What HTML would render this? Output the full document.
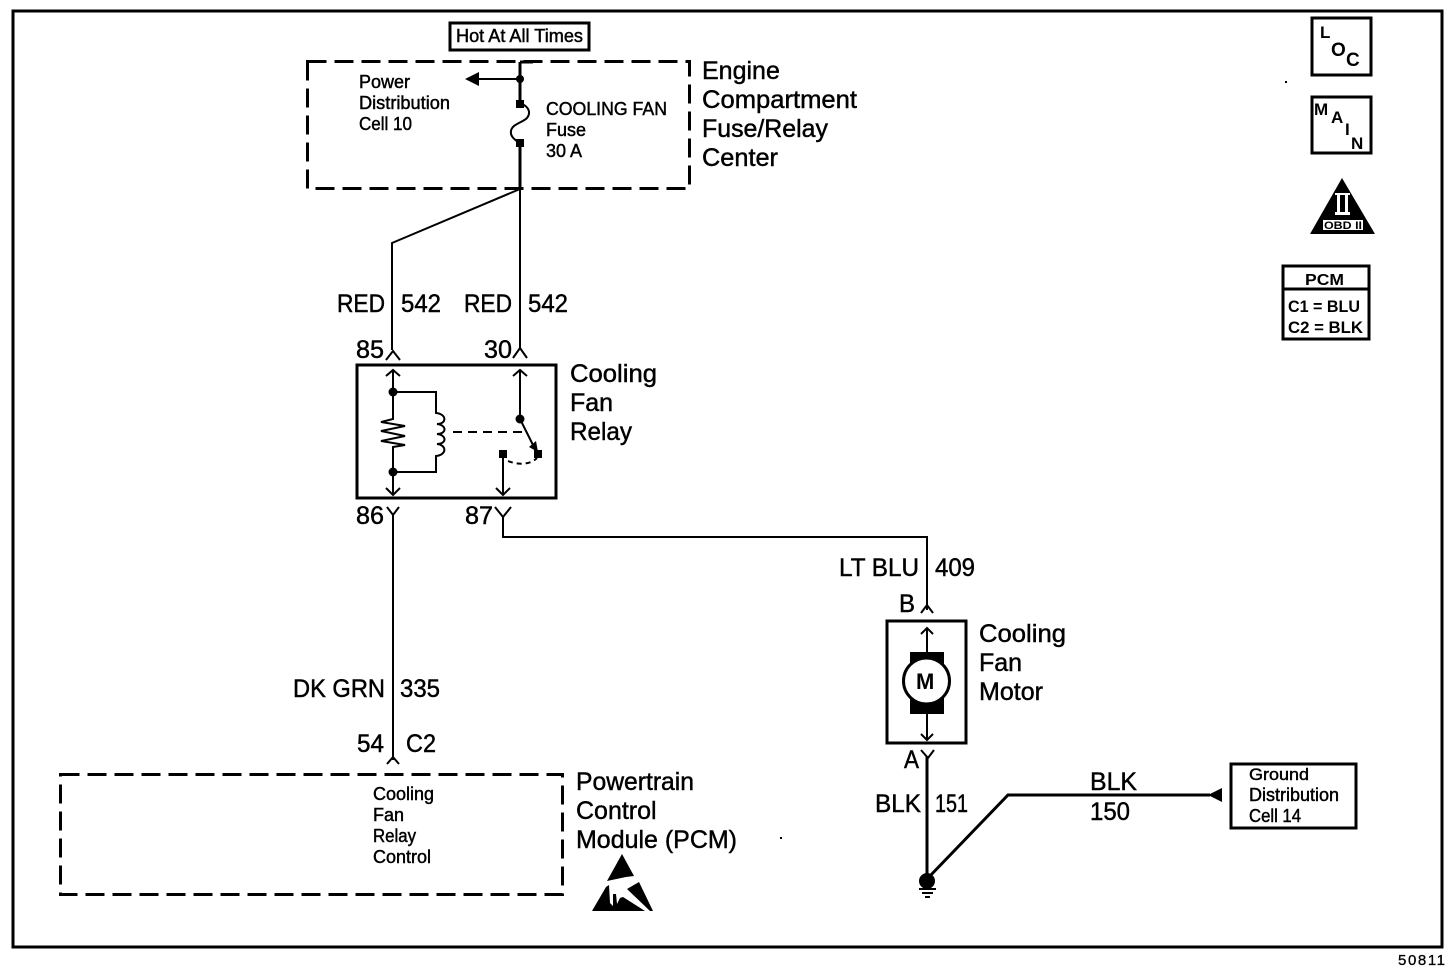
<!DOCTYPE html>
<html><head><meta charset="utf-8"><style>
html,body{margin:0;padding:0;background:#fff}
svg{display:block}
text{font-family:"Liberation Sans",sans-serif;fill:#000;stroke:#000;stroke-width:.45}
.l{font-size:25px}.s{font-size:18px}
.b{font-weight:bold;stroke:none}
.w{fill:none;stroke:#000;stroke-width:2}
.t{fill:none;stroke:#000;stroke-width:3}
</style></head><body>
<svg width="1456" height="974" viewBox="0 0 1456 974" xmlns="http://www.w3.org/2000/svg">
<rect x="13" y="11" width="1429" height="936" class="t"/>
<rect x="1285" y="81" width="2" height="2"/><rect x="780" y="837" width="2" height="2"/>

<!-- Fuse block -->
<rect x="450" y="23" width="139" height="27" class="t"/>
<text class="s" x="456" y="42" textLength="127" lengthAdjust="spacingAndGlyphs">Hot At All Times</text>
<rect x="307.500" y="61.500" width="382" height="127" fill="none" stroke="#000" stroke-width="3" stroke-dasharray="19 8"/>
<text class="s" x="359" y="88" textLength="51" lengthAdjust="spacingAndGlyphs">Power</text>
<text class="s" x="359" y="109" textLength="91" lengthAdjust="spacingAndGlyphs">Distribution</text>
<text class="s" x="359" y="130" textLength="53" lengthAdjust="spacingAndGlyphs">Cell 10</text>
<text class="s" x="546" y="115" textLength="121" lengthAdjust="spacingAndGlyphs">COOLING FAN</text>
<text class="s" x="546" y="136">Fuse</text>
<text class="s" x="546" y="157">30 A</text>
<text class="l" x="702" y="79">Engine</text>
<text class="l" x="702" y="108" textLength="155" lengthAdjust="spacingAndGlyphs">Compartment</text>
<text class="l" x="702" y="137" textLength="126" lengthAdjust="spacingAndGlyphs">Fuse/Relay</text>
<text class="l" x="702" y="166" textLength="76" lengthAdjust="spacingAndGlyphs">Center</text>
<path class="t" d="M520 62V105M520 143V188"/>
<path class="t" d="M520 62H533"/>
<path class="w" d="M520 79H478"/>
<path d="M465 79L479 72V86Z"/>
<circle cx="520" cy="79" r="4"/>
<rect x="516" y="100" width="8" height="8"/>
<rect x="516" y="139" width="8" height="8"/>
<path class="w" d="M522 104C529 107 531 113 527 118C522 123 512 124 511 131C510 136 514 139 519 143"/>
<path class="w" d="M520 188V350M520 189L392 243V350"/>

<!-- Wire labels upper -->
<text class="l" x="337" y="312" textLength="48" lengthAdjust="spacingAndGlyphs">RED</text>
<text class="l" x="401" y="312" textLength="40" lengthAdjust="spacingAndGlyphs">542</text>
<text class="l" x="464" y="312" textLength="48" lengthAdjust="spacingAndGlyphs">RED</text>
<text class="l" x="528" y="312" textLength="40" lengthAdjust="spacingAndGlyphs">542</text>
<text class="l" x="356" y="358" textLength="28" lengthAdjust="spacingAndGlyphs">85</text>
<text class="l" x="484" y="358" textLength="28" lengthAdjust="spacingAndGlyphs">30</text>
<path class="w" d="M386 360L393 351L400 360M513 358L520 348L527 358"/>

<!-- Relay -->
<rect x="357" y="365" width="199" height="133" class="t"/>
<text class="l" x="570" y="382" textLength="87" lengthAdjust="spacingAndGlyphs">Cooling</text>
<text class="l" x="570" y="411">Fan</text>
<text class="l" x="570" y="440" textLength="62" lengthAdjust="spacingAndGlyphs">Relay</text>
<path class="w" d="M393 370V419L381 422L405 426L381 431L405 436L381 441L405 445L393 447V494M386 376L393 370L400 376M386 488L393 495L400 488"/>
<circle cx="393" cy="392" r="4.500"/><circle cx="393" cy="472" r="4.500"/>
<path class="w" d="M393 392H436V413C447 414 447 424 437 424C447 425 447 434 437 434C447 435 447 444 437 444C447 445 447 455 436 456V472H393"/>
<path class="w" d="M453 432H525" stroke-dasharray="9 6"/>
<path class="w" d="M520 370V419L536 451M513 376L520 370L527 376"/>
<path d="M529 447L538 452L536 441Z"/>
<circle cx="520" cy="419" r="4.500"/>
<rect x="534" y="450" width="8" height="8"/>
<rect x="499" y="450" width="8" height="8"/>
<path class="w" d="M503 454V495M496 488L503 495L510 488"/>
<path class="w" d="M508 461C518 465 530 465 537 458" stroke-dasharray="5 4"/>
<text class="l" x="356" y="524" textLength="28" lengthAdjust="spacingAndGlyphs">86</text>
<text class="l" x="465" y="524" textLength="28" lengthAdjust="spacingAndGlyphs">87</text>
<path class="w" d="M387 507L393 515L399 507M393 515V760M495 507L503 517L511 507M503 517V537H927V610"/>

<text class="l" x="293" y="697" textLength="92" lengthAdjust="spacingAndGlyphs">DK GRN</text>
<text class="l" x="400" y="697" textLength="40" lengthAdjust="spacingAndGlyphs">335</text>
<text class="l" x="357" y="752" textLength="27" lengthAdjust="spacingAndGlyphs">54</text>
<text class="l" x="406" y="752" textLength="30" lengthAdjust="spacingAndGlyphs">C2</text>
<path class="w" d="M387 764L393 757L399 764"/>

<!-- PCM -->
<rect x="60.500" y="774.500" width="502" height="120" fill="none" stroke="#000" stroke-width="3" stroke-dasharray="19 8"/>
<text class="s" x="373" y="800" textLength="61" lengthAdjust="spacingAndGlyphs">Cooling</text>
<text class="s" x="373" y="821">Fan</text>
<text class="s" x="373" y="842" textLength="43" lengthAdjust="spacingAndGlyphs">Relay</text>
<text class="s" x="373" y="863" textLength="58" lengthAdjust="spacingAndGlyphs">Control</text>
<text class="l" x="576" y="790" textLength="118" lengthAdjust="spacingAndGlyphs">Powertrain</text>
<text class="l" x="576" y="819">Control</text>
<text class="l" x="576" y="848" textLength="161" lengthAdjust="spacingAndGlyphs">Module (PCM)</text>
<path d="M622 854L634 876L626 877L607 881Z"/>
<path d="M606 887L609 885L610 903L613 906L613 894L616 894L617 904L620 898L623 897L645 911H592Z"/>
<path d="M627 889L639 882L653 911H650Z"/>

<!-- Motor -->
<text class="l" x="839" y="576" textLength="80" lengthAdjust="spacingAndGlyphs">LT BLU</text>
<text class="l" x="935" y="576" textLength="40" lengthAdjust="spacingAndGlyphs">409</text>
<text class="l" x="899" y="612" textLength="16" lengthAdjust="spacingAndGlyphs">B</text>
<path class="w" d="M921 613L927 605L933 613"/>
<rect x="887" y="621" width="79" height="122" class="t"/>
<text class="l" x="979" y="642" textLength="87" lengthAdjust="spacingAndGlyphs">Cooling</text>
<text class="l" x="979" y="671">Fan</text>
<text class="l" x="979" y="700" textLength="64" lengthAdjust="spacingAndGlyphs">Motor</text>
<path class="w" d="M927 652V628M921 634L927 628L933 634M927 714V740M921 734L927 740L933 734"/>
<rect x="910" y="652" width="34" height="62"/>
<circle cx="926.500" cy="681" r="23" fill="#fff" stroke="#000" stroke-width="3"/>
<text class="b" x="916" y="689" style="font-size:22px">M</text>
<text class="l" x="904" y="768" textLength="15" lengthAdjust="spacingAndGlyphs">A</text>
<path class="w" d="M921 750L928 758L934 750"/>
<path class="t" d="M927 756V880"/>
<text class="l" x="875" y="812" textLength="46" lengthAdjust="spacingAndGlyphs">BLK</text>
<text class="l" x="935" y="812" textLength="33" lengthAdjust="spacingAndGlyphs">151</text>
<path class="t" d="M928 878L1008 795H1210"/>
<path d="M1208 795L1222 788V802Z"/>
<text class="l" x="1090" y="790" textLength="47" lengthAdjust="spacingAndGlyphs">BLK</text>
<text class="l" x="1090" y="820" textLength="40" lengthAdjust="spacingAndGlyphs">150</text>
<circle cx="927" cy="881" r="8"/>
<path class="w" d="M919 889H936M922 893H933M925 897H930"/>
<rect x="1231" y="764" width="125" height="64" class="t"/>
<text class="s" x="1249" y="780" textLength="60" lengthAdjust="spacingAndGlyphs" style="font-size:17px">Ground</text>
<text class="s" x="1249" y="801" textLength="90" lengthAdjust="spacingAndGlyphs">Distribution</text>
<text class="s" x="1249" y="822" textLength="52" lengthAdjust="spacingAndGlyphs">Cell 14</text>

<!-- Icons -->
<rect x="1312" y="18" width="59" height="57" class="t"/>
<text class="b" x="1320" y="38" style="font-size:17px">L</text>
<text class="b" x="1331" y="56" style="font-size:19px">O</text>
<text class="b" x="1346" y="66" style="font-size:19px">C</text>
<rect x="1312" y="97" width="59" height="56" class="t"/>
<text class="b" x="1314" y="115" style="font-size:17px">M</text>
<text class="b" x="1331" y="123" style="font-size:17px">A</text>
<text class="b" x="1345" y="135" style="font-size:17px">I</text>
<text class="b" x="1351" y="149" style="font-size:17px">N</text>
<path d="M1342 178L1375 234H1310Z"/>
<rect x="1323" y="220" width="40" height="10" fill="#fff"/>
<text class="b" x="1324" y="229" textLength="38" lengthAdjust="spacingAndGlyphs" style="font-size:11px">OBD II</text>
<rect x="1335" y="193" width="15" height="2" fill="#fff"/><rect x="1335" y="212" width="15" height="3" fill="#fff"/>
<rect x="1337" y="195" width="3" height="17" fill="#fff"/><rect x="1345" y="195" width="3" height="17" fill="#fff"/>
<rect x="1283" y="266" width="86" height="73" class="t"/>
<path class="t" d="M1283 289H1369"/>
<text class="b" x="1305" y="285" textLength="39" lengthAdjust="spacingAndGlyphs" style="font-size:16px">PCM</text>
<text class="b" x="1288" y="312" textLength="72" lengthAdjust="spacingAndGlyphs" style="font-size:17px">C1 = BLU</text>
<text class="b" x="1288" y="333" textLength="75" lengthAdjust="spacingAndGlyphs" style="font-size:17px">C2 = BLK</text>

<text x="1398" y="965" textLength="47" style="font-size:15px;stroke-width:.3">50811</text>
</svg>
</body></html>
